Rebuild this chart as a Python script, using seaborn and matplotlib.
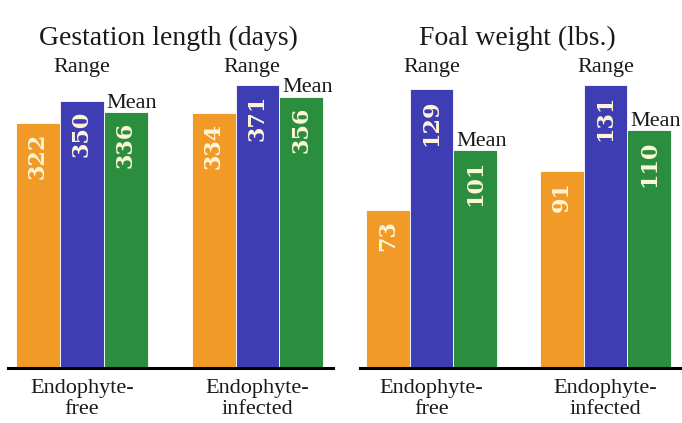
import matplotlib
matplotlib.use("Agg")
import matplotlib.pyplot as plt
import pandas as pd
import seaborn as sns

# data
groups = ["Endophyte-\nfree", "Endophyte-\ninfected"]
stats = ["low", "Range", "Mean"]
gestation_low = [322, 334]
gestation_high = [350, 371]
gestation_mean = [336, 356]
foal_low = [73, 91]
foal_high = [129, 131]
foal_mean = [101, 110]

colors = ["#F29A28", "#3E3DB4", "#2B8D3E"]
serif = "Liberation Serif"


def make_df(low, high, mean):
    rows = []
    for i, g in enumerate(groups):
        rows.append((g, "low", low[i]))
        rows.append((g, "Range", high[i]))
        rows.append((g, "Mean", mean[i]))
    return pd.DataFrame(rows, columns=["group", "stat", "value"])


sns.set_style("white")
plt.rcParams["font.family"] = [serif, "DejaVu Serif"]

fig = plt.figure(figsize=(6.82, 4.23), dpi=100)
ax1 = fig.add_axes([8 / 682, 55 / 423, 325 / 682, 308 / 423])
ax2 = fig.add_axes([360 / 682, 55 / 423, 322 / 682, 308 / 423])

panels = [
    (ax1, make_df(gestation_low, gestation_high, gestation_mean), 404, (-0.42, 1.43)),
    (ax2, make_df(foal_low, foal_high, foal_mean), 142.6, (-0.41, 1.44)),
]

for ax, df, top, xl in panels:
    sns.barplot(data=df, x="group", y="value", hue="stat", hue_order=stats,
                palette=colors, width=0.75, saturation=1, legend=False,
                edgecolor="white", linewidth=0.6, ax=ax)
    ax.set_ylim(0, top)
    ax.set_xlim(*xl)
    ax.set_xlabel("")
    ax.set_ylabel("")
    ax.set_yticks([])
    ax.set_xticks(range(len(groups)))
    ax.set_xticklabels(groups, fontsize=16, linespacing=1.12, color="#1a1a1a")
    ax.tick_params(axis="x", length=0, pad=8)
    sns.despine(ax=ax, left=True)
    ax.spines["bottom"].set_linewidth(2.2)
    ax.spines["bottom"].set_color("black")

    # numbers inside the bars
    for cont in ax.containers:
        for bar in cont:
            h = bar.get_height()
            ax.annotate(f"{int(round(h))}", (bar.get_x() + bar.get_width() / 2, h),
                        xytext=(0, -7), textcoords="offset points",
                        rotation=90, ha="center", va="top",
                        fontsize=16, fontweight="bold", family="DejaVu Serif",
                        color="#FFF6D8")

    # Range above the blue bars, Mean on top of the green bars
    for i, bar in enumerate(ax.containers[1]):
        shift = -0.03 if (ax is ax1 and i == 1) else 0
        ax.text(bar.get_x() + bar.get_width() / 2 + shift, 0.975, "Range",
                transform=ax.get_xaxis_transform(), ha="center", va="center",
                fontsize=16, color="#1a1a1a")
    for bar in ax.containers[2]:
        ax.annotate("Mean", (bar.get_x(), bar.get_height()),
                    xytext=(2, 3), textcoords="offset points",
                    ha="left", va="baseline", fontsize=16, color="#1a1a1a")

fig.text(168.5 / 682, 1 - 38 / 423, "Gestation length (days)",
         ha="center", va="center", fontsize=20, color="#1a1a1a")
fig.text(517 / 682, 1 - 38 / 423, "Foal weight (lbs.)",
         ha="center", va="center", fontsize=20, color="#1a1a1a")

fig.savefig("out.png", dpi=100)
